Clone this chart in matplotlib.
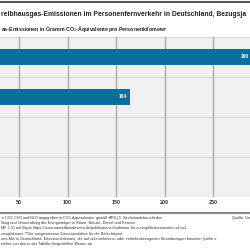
import matplotlib.pyplot as plt

values = [290, 164]
value_labels = ["290", "164"]
xticks = [50, 100, 150, 200, 250]
title = "reibhausgas-Emissionen im Personenfernverkehr in Deutschland, Bezugsja"
subtitle = r"as-Emissionen in Gramm CO$_2$-Äquivalente pro Personenkilometer"
notes = [
    r"n CO$_2$, CH$_4$ und N$_2$O angegeben in CO$_2$-Äquivalenten gemäß AR5 (5. Sachstandsbericht des",
    "llung und Umwandlung der Energieträger in Strom, Benzin, Diesel und Kerosin",
    "MF 1.5) auf Basis https://www.umweltbundesamt.de/publikationen/software-for-a-simplified-estimation-of-co2,",
    "zeugfaktoren **Der ausgewiesene Emissionsfaktor für die Bahn basiert",
    "rom-Mix in Deutschland. Emissionsfaktoren, die auf unternehmens- oder verkehrsbezogenen Strombezügen basieren (siehe z.",
    "eicher von den in der Tabelle dargestellten Werten ab.",
]
source = "Quelle: Um"

plt.rcParams['font.family'] = ['Liberation Sans', 'DejaVu Sans']
plt.rcParams['mathtext.fontset'] = 'custom'
plt.rcParams['mathtext.rm'] = 'Liberation Sans'
plt.rcParams['mathtext.bf'] = 'Liberation Sans:bold'
bar_color = "#0b6e9b"

XMIN, XMAX = 30.4, 288.1

fig = plt.figure(figsize=(2.5, 2.5), dpi=100)
ax = fig.add_axes([0, 53 / 250, 1, 160 / 250])
ax.set_facecolor("#f0f0f0")

rows = list(range(len(values)))
ax.barh(rows, values, height=0.38, color=bar_color, zorder=3)
for r, v, s in zip(rows, values, value_labels):
    ax.text(v - 3, r, s, ha="right", va="center", color="white",
            fontsize=3.6, fontweight="bold", zorder=4)

ax.set_xlim(XMIN, XMAX)
ax.set_ylim(3.5, -0.5)
for x in xticks:
    ax.axvline(x, color="#a9a9a9", lw=1.0, zorder=2)
for y in [-0.5, 0.5, 1.5, 2.5]:
    ax.axhline(y, color="#d9d9d9", lw=0.8, zorder=1)
ax.set_xticks([])
ax.set_yticks([])
for s in ax.spines.values():
    s.set_visible(False)

def fx(px):
    return px / 250

def fy(py):
    return 1 - py / 250

for x in xticks:
    px = (x - XMIN) / (XMAX - XMIN) * 250
    fig.text(fx(px), fy(203), str(x), ha="center", va="center",
             fontsize=3.9, fontweight="bold", color="#333333")

fig.add_artist(plt.Line2D([0, 1], [fy(2), fy(2)], color="#555555", lw=1.5))
fig.text(fx(1), fy(15), title, ha="left", va="center", fontsize=4.9,
         fontweight="bold", color="#222222")
fig.text(fx(1), fy(29), subtitle, ha="left", va="center", fontsize=3.75,
         fontweight="bold", color="#222222")

fig.add_artist(plt.Line2D([0, 1], [fy(213), fy(213)], color="#8a8a8a", lw=1.5))
for i, line in enumerate(notes):
    fig.text(fx(1), fy(218 + i * 5.2), line, ha="left", va="center",
             fontsize=2.75, color="#333333")
fig.text(fx(232), fy(218), source, ha="left", va="center", fontsize=2.75,
         color="#333333")

fig.savefig("out.png", dpi=100)
